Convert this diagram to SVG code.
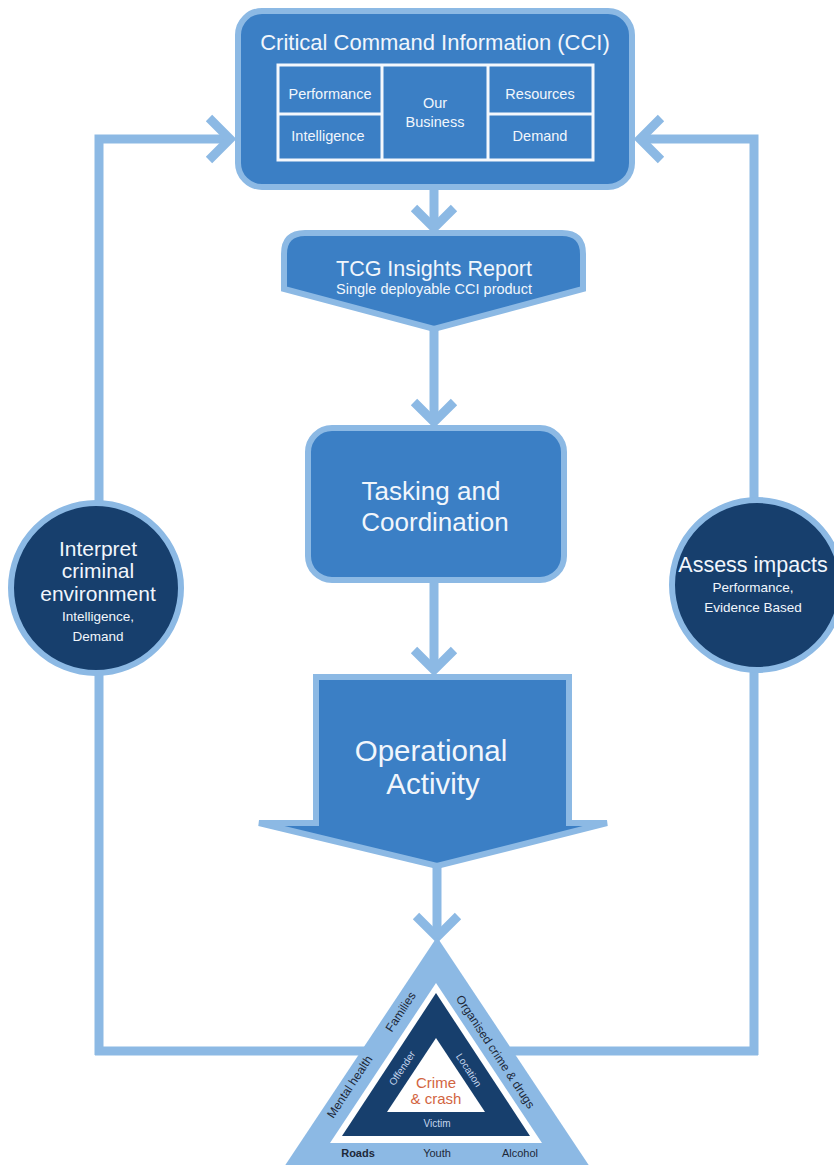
<svg xmlns="http://www.w3.org/2000/svg" width="834" height="1165" viewBox="0 0 834 1165">
<defs>
<style>
.lb{fill:#3b7fc5;stroke:#8cb9e4;stroke-width:6}
.conn{fill:none;stroke:#8cb9e4;stroke-width:9;stroke-linejoin:miter;stroke-linecap:butt}
.w{fill:#f1f6fc;font-family:"Liberation Sans",Arial,sans-serif;text-anchor:middle}
.d{fill:#1d2838;font-family:"Liberation Sans",Arial,sans-serif;text-anchor:middle}
.grid{fill:none;stroke:#f4f8fd;stroke-width:3}
.navy{fill:#173f6d;stroke:#8cb9e4;stroke-width:6}
</style>
</defs>
<rect width="834" height="1165" fill="#ffffff"/>

<g id="connectors">
<polyline class="conn" points="99,1055 99,139 229,139"/>
<polyline class="conn" points="209,118 230,139 209,160"/>
<polyline class="conn" points="754,1055 754,139 641,139"/>
<polyline class="conn" points="661,118 640,139 661,160"/>
<polyline class="conn" points="95,1051 366,1051"/>
<polyline class="conn" points="510,1051 758,1051"/>
<line class="conn" x1="434" y1="188" x2="434" y2="228"/>
<polyline class="conn" points="414,208 434,228 454,208"/>
<line class="conn" x1="434" y1="328" x2="434" y2="422"/>
<polyline class="conn" points="414,402 434,422 454,402"/>
<line class="conn" x1="434" y1="582" x2="434" y2="670"/>
<polyline class="conn" points="414,650 434,670 454,650"/>
<line class="conn" x1="437" y1="866" x2="437" y2="937"/>
<polyline class="conn" points="416,916 437,937 458,916"/>
</g>

<g id="cci">
<rect class="lb" x="238" y="11" width="394" height="176" rx="24"/>
<text class="w" x="435" y="50" font-size="22">Critical Command Information (CCI)</text>
<rect class="grid" x="278" y="65" width="315" height="95"/>
<line class="grid" x1="382" y1="65" x2="382" y2="160"/>
<line class="grid" x1="488" y1="65" x2="488" y2="160"/>
<line class="grid" x1="278" y1="114" x2="382" y2="114"/>
<line class="grid" x1="488" y1="114" x2="593" y2="114"/>
<text class="w" x="330" y="99" font-size="14.5">Performance</text>
<text class="w" x="328" y="141" font-size="14.5">Intelligence</text>
<text class="w" x="435" y="108" font-size="14.5">Our</text>
<text class="w" x="435" y="127" font-size="14.5">Business</text>
<text class="w" x="540" y="99" font-size="14.5">Resources</text>
<text class="w" x="540" y="141" font-size="14.5">Demand</text>
</g>

<g id="tcg">
<path class="lb" d="M305 233 H562 Q583 233 583 254 V289 L434 329 L284 289 V254 Q284 233 305 233 Z"/>
<text class="w" x="434" y="276" font-size="21.5">TCG Insights Report</text>
<text class="w" x="434" y="294" font-size="14.5">Single deployable CCI product</text>
</g>

<g id="tasking">
<rect class="lb" x="308" y="428" width="256" height="152" rx="24"/>
<text class="w" x="431" y="500" font-size="26">Tasking and</text>
<text class="w" x="435" y="531" font-size="26">Coordination</text>
</g>

<g id="operational">
<path class="lb" stroke-width="7" stroke-linejoin="miter" d="M316 677 H569 V823 H607 L437 866 L259 823 H316 Z"/>
<text class="w" x="431" y="761" font-size="29.5">Operational</text>
<text class="w" x="433" y="794" font-size="29.5">Activity</text>
</g>

<g id="interpret">
<circle class="navy" cx="96" cy="588" r="85"/>
<text class="w" x="98" y="556" font-size="21">Interpret</text>
<text class="w" x="98" y="578" font-size="21">criminal</text>
<text class="w" x="98" y="601" font-size="21">environment</text>
<text class="w" x="98" y="621" font-size="13.5">Intelligence,</text>
<text class="w" x="98" y="641" font-size="13.5">Demand</text>
</g>

<g id="assess">
<circle class="navy" cx="757" cy="585" r="85"/>
<text class="w" x="753" y="572" font-size="21.5">Assess impacts</text>
<text class="w" x="753" y="592" font-size="13.5">Performance,</text>
<text class="w" x="753" y="612" font-size="13.5">Evidence Based</text>
</g>

<g id="triangle">
<polygon points="437,937 278,1176 596,1176" fill="#8cb9e4"/>
<polygon points="436,983 330,1143 542,1143" fill="#ffffff"/>
<polygon points="436,993 342,1136 530,1136" fill="#173f6d"/>
<polygon points="436,1038 387,1112 485,1112" fill="#ffffff"/>
<text class="d" font-size="12" transform="translate(404,1014) rotate(-56.6)">Families</text>
<text class="d" font-size="12" transform="translate(353,1089) rotate(-56.6)">Mental health</text>
<text class="d" font-size="12" transform="translate(492,1054) rotate(56.6)">Organised crime &amp; drugs</text>
<text class="d" font-size="11" font-weight="bold" x="358" y="1157">Roads</text>
<text class="d" font-size="11" x="437" y="1157">Youth</text>
<text class="d" font-size="11" x="520" y="1157">Alcohol</text>
<text class="w" style="fill:#c5d6ee" font-size="10" transform="translate(405,1070) rotate(-56.6)">Offender</text>
<text class="w" style="fill:#c5d6ee" font-size="10" transform="translate(466,1072) rotate(56.6)">Location</text>
<text class="w" style="fill:#c5d6ee" font-size="10" x="437" y="1127">Victim</text>
<text class="w" style="fill:#d2653f" font-size="15" x="436" y="1088">Crime</text>
<text class="w" style="fill:#d2653f" font-size="15" x="436" y="1104">&amp; crash</text>
</g>
</svg>
